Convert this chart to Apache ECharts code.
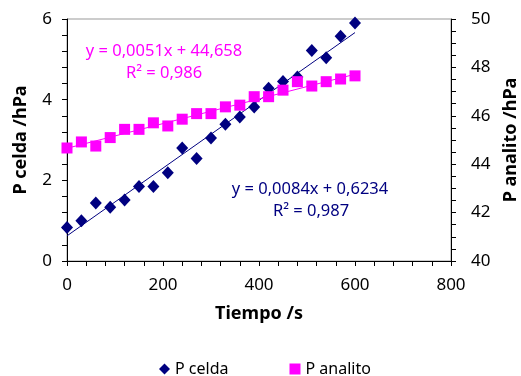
<!DOCTYPE html>
<html><head><meta charset="utf-8">
<script src="https://cdn.jsdelivr.net/npm/echarts@6/dist/echarts.min.js"></script>
<style>html,body{margin:0;padding:0;background:#fff}#c{width:521px;height:376px}</style>
</head><body><div id="c"></div>
<script>
var tiempo = [0,30,60,90,120,150,180,210,240,270,300,330,360,390,420,450,480,510,540,570,600];
var pCelda = [0.83,1.00,1.44,1.33,1.51,1.85,1.85,2.19,2.80,2.54,3.05,3.39,3.57,3.82,4.28,4.45,4.56,5.22,5.04,5.57,5.90];
var pAnalito = [44.67,44.92,44.75,45.10,45.44,45.44,45.71,45.58,45.86,46.09,46.09,46.37,46.44,46.79,46.79,47.06,47.41,47.23,47.41,47.52,47.65];
var fitCelda = [0.0084, 0.6234];
var fitAnalito = [0.0051, 44.658];
var xTicks = [0,200,400,600,800];
var yLeftTicks = [0,2,4,6];
var yRightTicks = [40,42,44,46,48,50];

var FONT = 'Noto Sans';
var NAVY = '#000080', MAG = '#FF00FF';
function pairs(xs, ys){ return xs.map(function(x,i){return [x, ys[i]];}); }
function fitLine(c){ var x0 = tiempo[0], x1 = tiempo[tiempo.length-1]; return [[x0, c[0]*x0+c[1]],[x1, c[0]*x1+c[1]]]; }

var axisCommon = {
  axisLine:{show:true, lineStyle:{color:'#000', width:1}},
  axisTick:{show:true, inside:false, length:5, lineStyle:{color:'#000'}},
  splitLine:{show:false}
};
var titleStyle = {fontFamily:FONT, fontSize:18, fontWeight:'bold', color:'#000'};
var chart = echarts.init(document.getElementById('c'));
chart.setOption({
  animation:false,
  grid:{left:67, right:70, top:19, bottom:115, show:true, borderColor:'#999', borderWidth:1,
        containLabel:false, outerBoundsMode:'none'},
  xAxis: Object.assign({}, axisCommon, {
    type:'value', min:xTicks[0], max:xTicks[xTicks.length-1], interval:200,
    minorTick:{show:true, splitNumber:5, length:5, lineStyle:{color:'#000'}},
    name:'Tiempo /s', nameLocation:'middle', nameGap:44, nameTextStyle:titleStyle,
    axisLabel:{color:'#000', fontFamily:FONT, fontSize:17, margin:16}
  }),
  yAxis: [
    Object.assign({}, axisCommon, {
      type:'value', position:'left', min:yLeftTicks[0], max:yLeftTicks[yLeftTicks.length-1], interval:2,
      minorTick:{show:true, splitNumber:5, length:5, lineStyle:{color:'#000'}},
      name:'P celda /hPa', nameLocation:'middle', nameGap:37, nameRotate:90, nameTextStyle:titleStyle,
      axisLabel:{color:'#000', fontFamily:FONT, fontSize:17, margin:15}
    }),
    Object.assign({}, axisCommon, {
      type:'value', position:'right', min:yRightTicks[0], max:yRightTicks[yRightTicks.length-1], interval:2,
      minorTick:{show:true, splitNumber:4, length:5, lineStyle:{color:'#000'}},
      name:'P analito /hPa', nameLocation:'middle', nameGap:51, nameRotate:90, nameTextStyle:titleStyle,
      axisLabel:{color:'#000', fontFamily:FONT, fontSize:17, margin:20}
    })
  ],
  legend:{
    left:154, top:356, itemGap:61, itemWidth:11, itemHeight:11,
    textStyle:{fontFamily:FONT, fontSize:16, color:'#000'},
    data:[{name:'P celda', icon:'diamond'},{name:'P analito', icon:'rect'}]
  },
  series:[
    {name:'P celda', type:'scatter', yAxisIndex:0, symbol:'diamond', symbolSize:[12,13],
     itemStyle:{color:NAVY, opacity:1}, data:pairs(tiempo,pCelda), z:3},
    {name:'P analito', type:'scatter', yAxisIndex:1, symbol:'rect', symbolSize:11,
     itemStyle:{color:MAG, opacity:1}, data:pairs(tiempo,pAnalito), z:3},
    {name:'fitC', type:'line', yAxisIndex:0, showSymbol:false, symbol:'none', data:fitLine(fitCelda),
     lineStyle:{color:NAVY, width:1}, z:2, silent:true},
    {name:'fitA', type:'line', yAxisIndex:1, showSymbol:false, symbol:'none', data:fitLine(fitAnalito),
     lineStyle:{color:MAG, width:1}, z:2, silent:true}
  ],
  graphic:[
    {type:'text', x:164, y:51, style:{text:'y = 0,0051x + 44,658', fill:MAG, font:'16.5px "Noto Sans"', align:'center', verticalAlign:'middle'}},
    {type:'text', x:164, y:73, style:{text:'R² = 0,986', fill:MAG, font:'16.5px "Noto Sans"', align:'center', verticalAlign:'middle'}},
    {type:'text', x:310, y:189, style:{text:'y = 0,0084x + 0,6234', fill:NAVY, font:'16.5px "Noto Sans"', align:'center', verticalAlign:'middle'}},
    {type:'text', x:311, y:211, style:{text:'R² = 0,987', fill:NAVY, font:'16.5px "Noto Sans"', align:'center', verticalAlign:'middle'}}
  ]
});
</script></body></html>
